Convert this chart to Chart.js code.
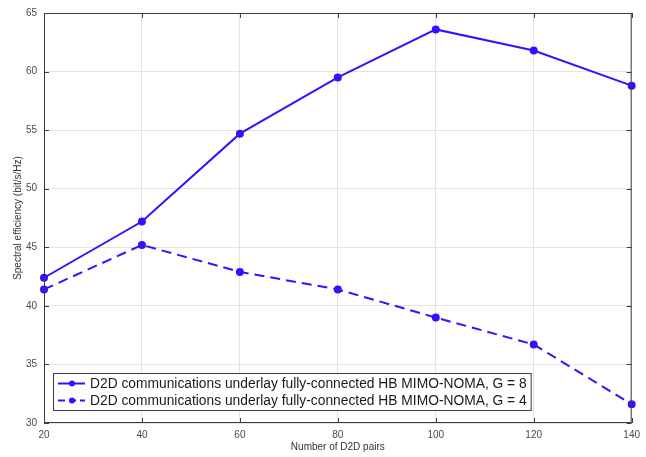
<!DOCTYPE html>
<html>
<head>
<meta charset="utf-8">
<script src="https://cdn.jsdelivr.net/npm/chart.js@4/dist/chart.umd.min.js"></script>
<style>
  html, body { margin: 0; padding: 0; background: #ffffff; }
  #wrap { width: 646px; height: 457px; position: relative; }
</style>
</head>
<body>
<div id="wrap"><canvas id="c" width="646" height="457"></canvas></div>
<script>
// Number of D2D pairs
const d2dPairs = [20, 40, 60, 80, 100, 120, 140];
// Spectral efficiency (bit/s/Hz), G = 8
const efficiencyG8 = [42.4, 47.2, 54.7, 59.5, 63.6, 61.8, 58.8];
// Spectral efficiency (bit/s/Hz), G = 4
const efficiencyG4 = [41.4, 45.2, 42.9, 41.4, 39.0, 36.7, 31.6];
const seriesNames = [
  'D2D communications underlay fully-connected HB MIMO-NOMA, G = 8',
  'D2D communications underlay fully-connected HB MIMO-NOMA, G = 4'
];
const xTickValues = [20, 40, 60, 80, 100, 120, 140];
const yTickValues = [30, 35, 40, 45, 50, 55, 60, 65];

const lineColor = 'rgb(60, 14, 255)';
const axisColor = '#3c3c3c';
const fontFamily = '"Liberation Sans", Arial, Helvetica, sans-serif';

const toPoints = (ys) => d2dPairs.map((x, i) => ({ x: x, y: ys[i] }));

// Boxed axes with inward tick marks on all four sides, plus an in-plot legend
const boxPlugin = {
  id: 'boxAxes',
  afterDatasetsDraw(chart) {
    const ctx = chart.ctx;
    const ca = chart.chartArea;
    const xs = chart.scales.x, ys = chart.scales.y;
    ctx.save();
    ctx.strokeStyle = axisColor;
    ctx.lineWidth = 1;
    ctx.strokeRect(ca.left + 0.5, ca.top + 0.5, ca.right - ca.left - 1, ca.bottom - ca.top - 1);
    const tl = 5;
    ctx.beginPath();
    xTickValues.forEach(v => {
      const px = Math.round(xs.getPixelForValue(v)) + 0.5;
      ctx.moveTo(px, ca.bottom); ctx.lineTo(px, ca.bottom - tl);
      ctx.moveTo(px, ca.top); ctx.lineTo(px, ca.top + tl);
    });
    yTickValues.forEach(v => {
      const py = Math.round(ys.getPixelForValue(v)) + 0.5;
      ctx.moveTo(ca.left, py); ctx.lineTo(ca.left + tl, py);
      ctx.moveTo(ca.right, py); ctx.lineTo(ca.right - tl, py);
    });
    ctx.stroke();
    ctx.restore();
  },
  afterDraw(chart) {
    const ctx = chart.ctx;
    const ca = chart.chartArea;
    const ds = chart.data.datasets;
    ctx.save();
    ctx.font = '13.8px ' + fontFamily;
    const textW = Math.max(...ds.map(d => ctx.measureText(d.label).width));
    const bx = ca.left + 9, by = 373;
    const bh = 37;
    const textX = bx + 37;
    const bw = textX - bx + textW + 4;
    ctx.fillStyle = '#ffffff';
    ctx.fillRect(bx, by, bw, bh);
    ctx.strokeStyle = axisColor;
    ctx.lineWidth = 1;
    ctx.strokeRect(bx + 0.5, by + 0.5, bw, bh);
    ds.forEach((d, i) => {
      const cy = by + 10.5 + i * 17;
      ctx.strokeStyle = d.borderColor;
      ctx.lineWidth = 2;
      ctx.setLineDash(d.borderDash ? [7, 4] : []);
      ctx.beginPath();
      ctx.moveTo(bx + 5, cy); ctx.lineTo(bx + 32, cy);
      ctx.stroke();
      ctx.setLineDash([]);
      ctx.fillStyle = d.borderColor;
      ctx.beginPath();
      ctx.arc(bx + 19, cy, 3, 0, Math.PI * 2);
      ctx.fill();
      ctx.fillStyle = '#1a1a1a';
      ctx.textBaseline = 'middle';
      ctx.textAlign = 'left';
      ctx.fillText(d.label, textX, cy + 0.5);
    });
    ctx.restore();
  }
};

new Chart(document.getElementById('c'), {
  type: 'line',
  data: {
    datasets: [
      {
        label: seriesNames[0],
        data: toPoints(efficiencyG8),
        borderColor: lineColor,
        backgroundColor: lineColor,
        borderWidth: 2,
        pointRadius: 3,
        pointStyle: 'circle',
        tension: 0,
        clip: false
      },
      {
        label: seriesNames[1],
        data: toPoints(efficiencyG4),
        borderColor: lineColor,
        backgroundColor: lineColor,
        borderWidth: 2,
        borderDash: [10, 6],
        pointRadius: 3,
        pointStyle: 'circle',
        tension: 0,
        clip: false
      }
    ]
  },
  options: {
    responsive: false,
    animation: false,
    events: [],
    layout: { padding: { top: 13, right: 14, left: 0, bottom: 0 } },
    plugins: {
      legend: { display: false },
      tooltip: { enabled: false }
    },
    scales: {
      x: {
        type: 'linear',
        min: 20,
        max: 140,
        afterFit: (s) => { s.height = 34; },
        afterBuildTicks: (s) => { s.ticks = xTickValues.map(v => ({ value: v })); },
        grid: { color: '#e3e3e3', lineWidth: 1, drawTicks: false },
        border: { display: false },
        ticks: {
          padding: 6,
          color: '#4a4a4a',
          font: { family: fontFamily, size: 10 },
          maxRotation: 0
        },
        title: {
          display: true,
          text: 'Number of D2D pairs',
          color: '#333333',
          font: { family: fontFamily, size: 10 },
          padding: { top: 0, bottom: 4 }
        }
      },
      y: {
        type: 'linear',
        min: 30,
        max: 65,
        afterFit: (s) => { s.width = 44; },
        afterBuildTicks: (s) => { s.ticks = yTickValues.map(v => ({ value: v })); },
        grid: { color: '#e3e3e3', lineWidth: 1, drawTicks: false },
        border: { display: false },
        ticks: {
          padding: 7,
          color: '#4a4a4a',
          font: { family: fontFamily, size: 10 }
        },
        title: {
          display: true,
          text: 'Spectral efficiency (bit/s/Hz)',
          color: '#333333',
          font: { family: fontFamily, size: 10 },
          padding: { top: 12, bottom: 0 }
        }
      }
    }
  },
  plugins: [boxPlugin]
});
</script>
</body>
</html>
